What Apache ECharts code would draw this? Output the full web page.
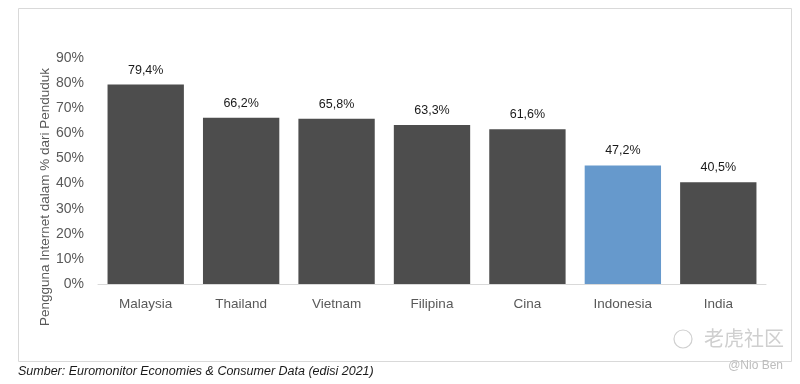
<!DOCTYPE html>
<html><head><meta charset="utf-8">
<script src="https://cdn.jsdelivr.net/npm/echarts@6/dist/echarts.min.js"></script>
<style>html,body{margin:0;padding:0;background:#fff}#c{width:800px;height:384px}</style>
</head><body><div id="c"></div>
<script>
const categories = ['Malaysia','Thailand','Vietnam','Filipina','Cina','Indonesia','India'];
const values = [79.4, 66.2, 65.8, 63.3, 61.6, 47.2, 40.5];
const highlight = 'Indonesia';
const yTicks = [0,10,20,30,40,50,60,70,80,90];

const FONT = "'Liberation Sans',Arial,sans-serif";
const chart = echarts.init(document.getElementById('c'));
chart.setOption({
  animation: false,
  grid: {left: 98, right: 34, top: 58, bottom: 100},
  xAxis: {
    type: 'category', data: categories,
    axisLine: {lineStyle: {color: '#d9d9d9', width: 1}},
    axisTick: {show: false},
    axisLabel: {color: '#595959', fontSize: 13.5, fontFamily: FONT, margin: 13}
  },
  yAxis: {
    type: 'value', min: 0, max: 90, interval: 10,
    splitLine: {show: false},
    axisLine: {show: false}, axisTick: {show: false},
    axisLabel: {color: '#595959', fontSize: 14, fontFamily: FONT, margin: 14,
      formatter: v => v + '%'}
  },
  series: [{
    type: 'bar', barCategoryGap: '20%',
    data: values.map((v,i) => ({value: v, itemStyle: {color: categories[i] === highlight ? '#6699cc' : '#4d4d4d'}})),
    label: {show: true, position: 'top', distance: 8, color: '#1a1a1a', fontSize: 12.5, fontFamily: FONT,
      formatter: p => p.value.toFixed(1).replace('.', ',') + '%'}
  }],
  graphic: [
    {type: 'rect', shape: {x: 18.5, y: 8.5, width: 773, height: 353}, style: {fill: 'none', stroke: '#d9d9d9', lineWidth: 1}, silent: true},
    {type: 'text', x: 45, y: 197, rotation: Math.PI/2, style: {text: 'Pengguna Internet dalam % dari Penduduk', fill: '#595959', font: '13.5px ' + FONT, textAlign: 'center', textVerticalAlign: 'middle'}},
    {type: 'text', x: 18, y: 372, style: {text: 'Sumber: Euromonitor Economies & Consumer Data (edisi 2021)', fill: '#1a1a1a', font: 'italic 12.5px ' + FONT, textAlign: 'left', textVerticalAlign: 'middle'}},
    {type: 'text', x: 784, y: 338, style: {text: '老虎社区', fill: '#cfcfcf', font: '20px "Noto Sans CJK SC"', textAlign: 'right', textVerticalAlign: 'middle'}},
    {type: 'circle', shape: {cx: 683, cy: 339, r: 9}, style: {fill: 'none', stroke: '#d0d0d0', lineWidth: 1.2}},
    {type: 'text', x: 783, y: 366, style: {text: '@Nio Ben', fill: '#bdbdbd', font: '12px ' + FONT, textAlign: 'right', textVerticalAlign: 'middle'}}
  ]
});
</script></body></html>
